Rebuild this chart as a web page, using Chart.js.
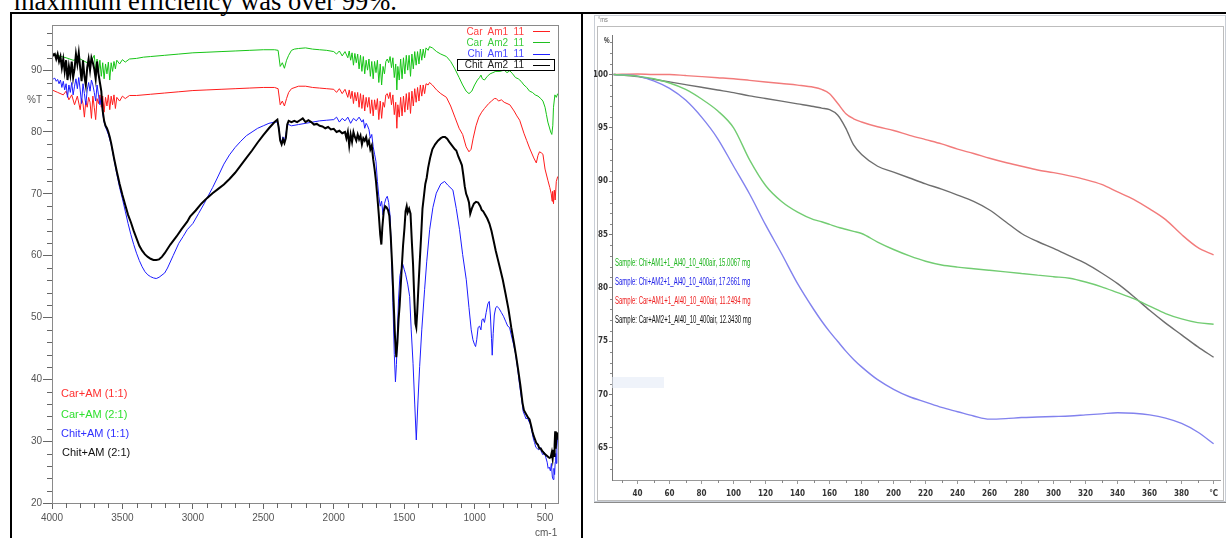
<!DOCTYPE html>
<html>
<head>
<meta charset="utf-8">
<script src="https://cdn.jsdelivr.net/npm/chart.js@4.4.1/dist/chart.umd.min.js"></script>
<style>
  body { margin: 0; background: #fff; }
  #page { position: relative; width: 1226px; height: 538px; overflow: hidden; background: #fff; font-family: "Liberation Sans", Arial, sans-serif; }
  .abs { position: absolute; white-space: pre; }
  .narrow { font-family: "Liberation Sans", Arial, sans-serif; transform-origin: 0 50%; }
  canvas { display: block; }
</style>
</head>
<body>
<div id="page">
  <div class="abs" style="left:14px;top:-12px;font:26.5px/26.5px 'Liberation Serif','Times New Roman',serif;color:#000">maximum efficiency was over 99%.</div>

  <!-- table borders -->
  <div class="abs" style="left:10px;top:12px;width:1216px;height:2px;background:#000"></div>
  <div class="abs" style="left:10px;top:12px;width:2px;height:526px;background:#000"></div>
  <div class="abs" style="left:581px;top:12px;width:2px;height:526px;background:#000"></div>

  <!-- left: FTIR -->
  <div class="abs" style="left:0;top:14px;width:580px;height:524px"><canvas id="ftir" width="580" height="524"></canvas></div>
  <div class="abs" style="left:27px;top:94px;font-size:10px;color:#555">%T</div>
  <div class="abs" style="left:535px;top:527px;font-size:10px;color:#555">cm-1</div>

  <div class="abs" style="left:440px;top:26px;width:84px;text-align:right;font-size:10px;color:#ff4040">Car  Am1  11</div>
  <div class="abs" style="left:533px;top:31px;width:17px;height:1px;background:#ff2020"></div>
  <div class="abs" style="left:440px;top:37px;width:84px;text-align:right;font-size:10px;color:#3ccc3c">Car  Am2  11</div>
  <div class="abs" style="left:533px;top:42px;width:17px;height:1px;background:#20c020"></div>
  <div class="abs" style="left:440px;top:48px;width:84px;text-align:right;font-size:10px;color:#4848ff">Chi  Am1  11</div>
  <div class="abs" style="left:533px;top:54px;width:17px;height:1px;background:#2020ff"></div>
  <div class="abs" style="left:457px;top:59px;width:96px;height:10px;border:1px solid #000"></div>
  <div class="abs" style="left:440px;top:59px;width:84px;text-align:right;font-size:10px;color:#222">Chit  Am2  11</div>
  <div class="abs" style="left:533px;top:65px;width:17px;height:1px;background:#000"></div>

  <div class="abs" style="left:61px;top:387px;font-size:11px;color:#ff3030">Car+AM (1:1)</div>
  <div class="abs" style="left:61px;top:408px;font-size:11px;color:#30e030">Car+AM (2:1)</div>
  <div class="abs" style="left:61px;top:427px;font-size:11px;color:#3030ff">Chit+AM (1:1)</div>
  <div class="abs" style="left:62px;top:446px;font-size:11px;color:#111">Chit+AM (2:1)</div>

  <!-- right: TGA -->
  <div class="abs" style="left:594px;top:15px;width:632px;height:487px;border:1px solid #c9ced6;box-sizing:border-box"></div>
  <div class="abs" style="left:597px;top:26px;width:627px;height:475px;border:1px solid #bdbdbd;box-sizing:border-box"></div>
  <div class="abs" style="left:594px;top:502px;width:632px;height:1px;background:#8a8a8a"></div>
  <div class="abs" style="left:598px;top:16px;font-size:7px;color:#777;transform:scaleX(0.8);transform-origin:0 50%">°ms</div>
  <div class="abs" style="left:594px;top:28px;width:630px;height:472px"><canvas id="tga" width="630" height="472"></canvas></div>
  <div class="abs" style="left:604px;top:35px;font-size:9px;font-weight:bold;color:#333;transform:scaleX(0.7);transform-origin:0 50%">%</div>
  <div class="abs" style="left:612px;top:377px;width:52px;height:11px;background:rgba(226,233,246,0.55)"></div>

  <div class="abs narrow" style="left:615px;top:257px;font-size:10px;color:#1fb51f;transform:scaleX(0.6)">Sample: Chi+AM1+1_Al40_10_400air, 15.0067 mg</div>
  <div class="abs narrow" style="left:615px;top:276px;font-size:10px;color:#2020e8;transform:scaleX(0.6)">Sample: Chi+AM2+1_Al40_10_400air, 17.2661 mg</div>
  <div class="abs narrow" style="left:615px;top:295px;font-size:10px;color:#ee2020;transform:scaleX(0.6)">Sample: Car+AM1+1_Al40_10_400air, 11.2494 mg</div>
  <div class="abs narrow" style="left:615px;top:314px;font-size:10px;color:#111;transform:scaleX(0.6)">Sample: Car+AM2+1_Al40_10_400air, 12.3430 mg</div>
</div>

<script>
// FTIR spectra, [wavenumber cm-1, %T]
const carAm1 = [[4000,86.8],[3960,86.4],[3920,86.0],[3900,86.6],[3880,85.2],[3860,86.0],[3840,84.4],[3820,85.8],[3800,83.6],[3790,85.4],[3780,84.6],[3770,82.4],[3760,85.0],[3750,84.0],[3740,85.6],[3730,84.8],[3720,82.2],[3710,85.8],[3700,84.0],[3690,82.0],[3680,85.4],[3670,84.6],[3660,86.0],[3650,84.0],[3640,85.8],[3630,83.2],[3620,85.6],[3610,84.2],[3600,86.0],[3590,83.6],[3580,85.8],[3570,84.4],[3560,86.0],[3550,83.8],[3540,85.6],[3520,85.0],[3500,85.8],[3480,85.4],[3450,85.9],[3400,85.9],[3300,86.1],[3200,86.3],[3100,86.5],[3000,86.7],[2900,86.8],[2800,86.9],[2700,87.0],[2600,87.1],[2500,87.2],[2420,87.2],[2395,87.0],[2380,84.4],[2365,85.0],[2350,84.2],[2335,85.4],[2320,86.4],[2300,87.0],[2250,87.4],[2200,87.4],[2150,87.2],[2100,87.1],[2050,87.0],[2000,86.9],[1980,86.4],[1960,87.0],[1940,86.2],[1920,86.9],[1900,85.6],[1890,86.8],[1880,85.4],[1870,86.6],[1860,84.6],[1850,86.4],[1840,85.0],[1830,86.4],[1820,84.0],[1810,86.2],[1800,83.8],[1790,86.0],[1780,83.4],[1770,85.6],[1760,84.0],[1750,85.6],[1740,83.0],[1730,85.2],[1720,82.6],[1710,85.2],[1700,83.6],[1690,85.4],[1680,82.0],[1670,85.0],[1660,82.2],[1650,84.8],[1640,84.0],[1630,86.0],[1620,86.2],[1610,85.4],[1600,86.4],[1590,84.4],[1580,86.0],[1570,82.8],[1560,84.8],[1552,80.6],[1545,84.4],[1535,82.4],[1525,85.6],[1515,82.6],[1505,85.8],[1495,83.2],[1485,86.2],[1475,83.6],[1465,86.4],[1455,83.0],[1445,86.6],[1435,84.2],[1425,87.0],[1415,84.8],[1405,87.2],[1395,85.0],[1385,87.6],[1375,85.8],[1365,87.6],[1355,86.2],[1345,87.8],[1330,87.6],[1320,88.0],[1300,87.6],[1270,86.8],[1240,86.2],[1200,85.6],[1170,84.2],[1140,82.4],[1110,80.6],[1085,79.6],[1060,77.6],[1040,76.8],[1025,77.2],[1010,79.0],[990,81.0],[970,82.4],[950,83.2],[930,83.8],[900,84.6],[880,85.0],[860,85.4],[846,85.4],[830,85.0],[810,85.2],[790,84.8],[770,84.6],[750,84.4],[720,83.4],[700,82.6],[680,81.9],[650,79.8],[630,78.6],[610,77.4],[580,75.8],[562,75.0],[550,76.2],[539,76.8],[525,76.6],[515,76.4],[500,74.0],[480,72.2],[466,71.0],[456,70.0],[450,68.8],[446,70.4],[440,68.4],[434,70.6],[428,69.0],[420,72.0],[410,72.8]];

const carAm2 = [[4000,92.6],[3950,92.3],[3900,92.0],[3850,91.6],[3800,91.8],[3750,91.2],[3720,91.5],[3700,92.4],[3690,90.0],[3680,91.8],[3670,89.5],[3660,91.6],[3650,89.0],[3640,91.2],[3630,88.6],[3620,91.0],[3610,89.4],[3600,91.3],[3590,88.4],[3580,91.2],[3570,89.8],[3560,91.4],[3550,90.2],[3540,91.6],[3520,91.0],[3500,91.7],[3480,91.3],[3450,91.8],[3400,91.9],[3350,92.1],[3300,92.2],[3200,92.4],[3100,92.6],[3000,92.8],[2900,92.9],[2800,93.0],[2700,93.1],[2600,93.2],[2500,93.3],[2420,93.3],[2395,93.2],[2380,90.6],[2365,91.2],[2350,90.3],[2335,91.6],[2320,92.4],[2300,93.2],[2280,93.4],[2250,93.5],[2200,93.6],[2150,93.4],[2100,93.3],[2050,93.2],[2000,93.0],[1980,92.6],[1960,93.1],[1940,92.3],[1920,93.0],[1900,92.0],[1890,93.1],[1880,91.6],[1870,92.8],[1860,90.8],[1850,92.7],[1840,91.2],[1830,92.6],[1820,90.2],[1810,92.4],[1800,89.8],[1790,92.2],[1780,89.4],[1770,91.6],[1760,90.0],[1750,91.8],[1740,89.0],[1730,91.4],[1720,88.6],[1710,91.4],[1700,89.6],[1690,91.6],[1680,88.0],[1670,91.0],[1660,87.6],[1650,90.6],[1640,89.4],[1630,91.4],[1620,91.8],[1610,91.2],[1600,92.2],[1590,90.4],[1580,92.0],[1570,88.8],[1560,91.0],[1552,86.8],[1545,90.6],[1535,88.4],[1525,91.8],[1515,88.6],[1505,92.0],[1495,89.4],[1485,92.4],[1475,90.0],[1465,92.4],[1455,89.0],[1445,92.6],[1435,90.2],[1425,93.0],[1415,90.8],[1405,93.0],[1395,91.0],[1385,93.4],[1375,91.6],[1365,93.4],[1355,92.0],[1345,93.6],[1330,93.2],[1320,93.8],[1300,93.6],[1270,93.0],[1240,92.6],[1200,92.2],[1170,91.4],[1140,90.2],[1110,88.8],[1085,87.6],[1060,86.6],[1040,86.2],[1020,86.6],[1000,87.6],[980,88.4],[965,88.8],[955,89.2],[945,88.6],[930,88.4],[910,89.0],[890,89.4],[870,89.6],[850,89.8],[820,89.8],[790,90.0],[770,89.6],[750,89.9],[730,89.4],[710,88.8],[690,88.6],[670,88.2],[650,87.6],[630,87.2],[610,86.6],[590,86.4],[570,86.0],[550,85.8],[530,85.4],[515,85.0],[500,84.0],[490,82.8],[480,81.6],[470,80.8],[460,80.0],[452,79.6],[445,81.0],[440,84.0],[430,86.0],[420,85.6],[410,86.2]];

const chiAm1 = [[4000,88.8],[3990,88.6],[3980,88.7],[3970,88.2],[3960,88.5],[3950,87.8],[3940,88.4],[3930,87.2],[3920,88.2],[3910,86.8],[3900,87.8],[3890,85.6],[3880,87.6],[3870,86.4],[3860,88.0],[3850,86.0],[3840,87.4],[3830,88.6],[3820,87.0],[3810,88.8],[3800,86.8],[3790,84.6],[3780,87.8],[3770,86.2],[3760,84.4],[3750,86.8],[3740,88.0],[3730,86.6],[3720,88.4],[3710,87.6],[3700,86.4],[3690,85.0],[3680,87.6],[3670,86.0],[3660,84.4],[3650,85.6],[3640,83.0],[3630,81.6],[3620,80.8],[3610,80.2],[3600,79.6],[3580,78.0],[3560,75.6],[3540,73.2],[3520,71.0],[3500,69.2],[3480,67.2],[3460,65.2],[3440,63.4],[3420,61.8],[3400,60.4],[3380,59.2],[3360,58.2],[3340,57.4],[3320,56.9],[3300,56.6],[3280,56.4],[3260,56.3],[3240,56.5],[3200,57.2],[3180,58.0],[3140,60.0],[3100,62.0],[3069,63.1],[3040,64.2],[3000,65.2],[2960,66.8],[2920,68.4],[2900,69.3],[2860,71.0],[2830,72.4],[2780,74.8],[2740,76.3],[2700,77.5],[2660,78.5],[2620,79.4],[2580,80.0],[2540,80.6],[2500,81.0],[2460,81.4],[2420,81.6],[2400,81.6],[2390,80.8],[2380,78.8],[2370,78.4],[2360,79.2],[2350,78.6],[2340,79.6],[2330,81.0],[2320,81.2],[2300,81.0],[2250,81.2],[2200,81.4],[2150,81.6],[2100,81.8],[2050,81.9],[2000,82.0],[1980,82.4],[1960,81.6],[1940,82.2],[1920,81.8],[1900,82.4],[1880,81.4],[1860,82.2],[1840,81.8],[1820,82.4],[1800,81.6],[1790,82.0],[1780,80.6],[1770,81.4],[1760,81.0],[1750,80.4],[1740,79.0],[1730,79.6],[1720,77.6],[1710,76.4],[1700,75.2],[1690,72.0],[1680,69.6],[1670,68.0],[1660,68.8],[1650,66.6],[1640,68.4],[1630,69.2],[1620,69.6],[1610,68.6],[1600,66.4],[1590,60.2],[1580,52.4],[1570,44.0],[1562,39.6],[1555,42.4],[1548,47.6],[1540,53.0],[1530,56.8],[1520,57.8],[1510,58.6],[1500,57.8],[1490,57.0],[1475,55.4],[1461,53.4],[1450,48.0],[1437,42.6],[1425,36.0],[1414,30.2],[1402,36.5],[1390,42.1],[1375,48.0],[1355,54.5],[1340,59.0],[1319,64.2],[1296,67.8],[1272,70.1],[1240,71.6],[1213,72.0],[1190,71.4],[1154,70.6],[1130,67.6],[1107,64.2],[1085,60.2],[1059,56.1],[1040,51.6],[1024,48.0],[1012,46.4],[1000,45.6],[993,45.3],[985,46.4],[975,48.4],[965,48.6],[955,48.0],[948,49.6],[940,49.8],[930,49.2],[918,50.8],[906,52.2],[896,52.6],[888,50.4],[880,46.6],[875,43.9],[868,47.4],[860,50.4],[850,51.6],[840,51.8],[825,51.4],[810,50.8],[795,50.2],[780,49.4],[765,48.6],[752,48.4],[740,47.2],[725,45.8],[710,44.2],[695,41.8],[680,39.0],[665,36.6],[655,34.8],[645,34.2],[635,33.6],[625,33.8],[615,33.2],[605,32.8],[595,31.8],[585,30.6],[575,29.8],[565,29.0],[555,28.8],[545,28.6],[535,29.0],[525,28.2],[515,27.8],[505,28.2],[495,27.4],[485,26.6],[478,25.6],[470,25.8],[462,25.2],[455,26.4],[448,24.2],[442,23.8],[437,25.6],[432,24.6],[428,26.6],[424,28.0],[420,26.4],[416,29.0],[410,31.0]];

const chitAm2 = [[4000,92.8],[3990,92.4],[3980,92.6],[3970,91.8],[3960,92.6],[3950,91.4],[3940,92.2],[3930,90.4],[3920,91.8],[3910,89.8],[3900,91.6],[3890,88.4],[3880,90.6],[3870,89.2],[3860,91.4],[3850,88.8],[3840,90.2],[3830,92.6],[3820,91.0],[3810,92.8],[3800,90.4],[3790,88.2],[3780,91.6],[3770,89.0],[3760,87.6],[3750,90.4],[3740,91.8],[3730,90.0],[3720,92.0],[3710,91.2],[3700,90.2],[3690,88.6],[3680,91.4],[3670,89.4],[3660,88.0],[3650,86.6],[3640,83.4],[3630,81.8],[3620,81.0],[3610,80.6],[3600,80.0],[3590,79.2],[3580,78.2],[3570,77.0],[3560,75.8],[3540,73.6],[3520,71.6],[3500,69.8],[3480,68.2],[3460,66.6],[3440,65.4],[3420,64.0],[3400,62.8],[3380,61.6],[3360,60.8],[3340,60.2],[3320,59.8],[3300,59.5],[3280,59.3],[3260,59.3],[3240,59.4],[3220,59.8],[3200,60.4],[3160,61.8],[3116,63.1],[3080,64.3],[3040,65.5],[3020,66.3],[2980,67.3],[2940,68.4],[2900,69.3],[2860,70.1],[2820,70.8],[2780,71.5],[2740,72.4],[2700,73.4],[2660,74.6],[2620,75.8],[2580,77.0],[2540,78.3],[2500,79.5],[2460,80.6],[2420,81.6],[2400,82.0],[2390,80.6],[2380,78.6],[2370,78.0],[2360,78.8],[2350,78.2],[2340,79.0],[2330,81.2],[2320,81.8],[2300,81.6],[2280,81.8],[2260,81.6],[2240,81.9],[2220,82.2],[2200,81.6],[2180,81.9],[2160,81.6],[2140,81.2],[2120,81.3],[2100,81.0],[2080,80.9],[2060,80.6],[2040,80.8],[2020,80.4],[2000,80.5],[1980,80.0],[1960,80.2],[1940,79.8],[1920,80.0],[1910,79.0],[1900,80.0],[1890,77.8],[1880,79.6],[1870,78.4],[1860,80.0],[1850,79.2],[1840,78.6],[1830,79.6],[1820,78.8],[1810,79.4],[1800,78.0],[1790,79.0],[1780,78.6],[1770,79.2],[1760,78.0],[1750,78.6],[1740,77.2],[1730,77.8],[1720,75.6],[1710,74.0],[1700,72.0],[1690,69.4],[1680,66.6],[1670,63.4],[1662,61.8],[1655,64.6],[1645,67.2],[1635,68.0],[1625,67.8],[1615,67.4],[1605,66.4],[1595,63.0],[1585,58.2],[1575,52.6],[1565,46.8],[1556,43.6],[1548,46.0],[1540,49.6],[1532,52.0],[1520,57.0],[1508,61.6],[1498,64.4],[1490,67.2],[1482,68.0],[1475,67.0],[1465,67.6],[1455,66.8],[1445,62.0],[1437,58.6],[1428,53.0],[1420,49.0],[1414,48.4],[1408,50.6],[1400,54.4],[1390,58.8],[1380,63.0],[1370,67.6],[1360,69.6],[1350,71.6],[1340,72.6],[1330,74.2],[1316,75.8],[1300,77.2],[1280,78.0],[1260,78.6],[1240,79.0],[1225,79.2],[1210,79.2],[1195,78.9],[1180,78.4],[1160,77.8],[1140,77.2],[1130,77.0],[1115,76.0],[1100,75.2],[1090,74.6],[1080,73.0],[1070,71.2],[1060,70.0],[1050,69.4],[1040,68.6],[1031,66.8],[1020,67.6],[1005,68.4],[990,68.7],[975,68.6],[960,68.0],[950,67.4],[940,67.2],[925,66.6],[910,66.0],[895,65.2],[880,64.0],[865,62.4],[850,60.8],[835,59.4],[820,58.0],[800,56.1],[780,53.8],[760,51.4],[740,48.4],[720,45.8],[705,43.7],[690,41.4],[675,39.0],[660,36.2],[650,35.0],[640,34.6],[630,34.2],[620,33.8],[610,33.5],[600,32.6],[590,31.6],[580,30.8],[570,30.2],[562,29.7],[550,29.4],[540,28.8],[530,28.8],[520,28.4],[515,28.3],[505,28.0],[495,27.8],[485,27.6],[475,27.4],[468,27.3],[460,27.4],[452,28.2],[446,27.2],[440,28.6],[436,27.6],[432,29.4],[428,31.6],[424,28.8],[420,30.4],[416,31.4],[410,30.6]];

const ftirXTicks = [4000, 3500, 3000, 2500, 2000, 1500, 1000, 500];
const ftirYTicks = [20, 30, 40, 50, 60, 70, 80, 90];

// TGA curves, mass % against temperature
const tgaTemp = [25,40,50,60,70,80,90,100,110,120,130,140,150,155,160,165,170,175,180,190,200,210,220,230,240,250,260,270,280,290,300,310,320,330,340,350,360,370,380,390,400];
const tgaChiAm1 = [100,99.85,99.6,99.2,98.6,97.7,96.6,95.0,92.0,89.6,88.1,87.1,86.4,86.2,85.95,85.7,85.5,85.3,85.1,84.3,83.6,83.0,82.5,82.15,81.95,81.8,81.65,81.5,81.35,81.2,81.05,80.9,80.55,80.1,79.55,79.0,78.3,77.6,77.1,76.75,76.6];
const tgaChiAm2 = [100,99.85,99.4,98.7,97.6,96.0,94.0,91.4,88.8,85.9,83.2,80.4,78.0,76.9,75.9,75.0,74.1,73.3,72.6,71.4,70.5,69.8,69.3,68.8,68.4,68.0,67.7,67.75,67.85,67.9,67.95,68.0,68.1,68.2,68.3,68.25,68.1,67.8,67.3,66.5,65.4];
const tgaCarAm1 = [100.0,100.05,100.0,100.0,99.9,99.8,99.7,99.6,99.45,99.3,99.15,99.0,98.8,98.6,98.2,97.3,96.35,95.85,95.55,95.1,94.75,94.3,93.9,93.5,93.0,92.6,92.15,91.75,91.4,91.05,90.8,90.5,90.15,89.7,89.0,88.3,87.4,86.4,85.0,83.8,83.1];
const tgaCarAm2 = [100,99.8,99.55,99.3,99.05,98.8,98.55,98.3,98.0,97.75,97.5,97.25,97.0,96.85,96.7,96.2,95.0,93.4,92.5,91.4,90.85,90.3,89.75,89.25,88.7,88.1,87.3,86.2,85.1,84.35,83.7,83.0,82.3,81.4,80.4,79.2,77.9,76.7,75.6,74.5,73.5];

const tgaXTicks = [40,60,80,100,120,140,160,180,200,220,240,260,280,300,320,340,360,380,400];
const tgaYTicks = [65, 70, 75, 80, 85, 90, 95, 100];

const toPts = arr => arr.map(p => ({ x: p[0], y: p[1] }));
const tgaPts = vals => tgaTemp.map((t, i) => ({ x: t, y: vals[i] }));
const fixedTicks = list => s => { s.ticks = list.map(v => ({ value: v })); };

// minor ticks + plot frame
function minorTicks(opts) {
  return {
    id: 'minor_' + opts.name,
    afterDraw(chart) {
      const ctx = chart.ctx, xs = chart.scales.x, ys = chart.scales.y, a = chart.chartArea;
      ctx.save();
      ctx.lineWidth = 1;
      if (opts.frame) {
        ctx.strokeStyle = opts.frame;
        ctx.strokeRect(Math.round(a.left) + 0.5, Math.round(a.top) + 0.5, Math.round(a.right - a.left), Math.round(a.bottom - a.top));
      }
      ctx.strokeStyle = opts.color;
      ctx.beginPath();
      for (let v = opts.xFrom; v <= opts.xTo; v += opts.xStep) {
        if (v % opts.xMajor === 0) continue;
        const px = Math.round(xs.getPixelForValue(v)) + 0.5;
        ctx.moveTo(px, a.bottom);
        ctx.lineTo(px, a.bottom + opts.xLen);
      }
      for (let v = opts.yFrom; v <= opts.yTo; v += opts.yStep) {
        if (v % opts.yMajor === 0) continue;
        const py = Math.round(ys.getPixelForValue(v)) + 0.5;
        ctx.moveTo(a.left - opts.yLen, py);
        ctx.lineTo(a.left, py);
      }
      ctx.stroke();
      ctx.restore();
    }
  };
}

new Chart(document.getElementById('ftir'), {
  type: 'line',
  data: {
    datasets: [
      { label: 'Chit Am2 11', data: toPts(chitAm2), borderColor: '#000000', borderWidth: 2, order: 0 },
      { label: 'Chi Am1 11', data: toPts(chiAm1), borderColor: '#1c1cff', borderWidth: 1, order: 1 },
      { label: 'Car Am2 11', data: toPts(carAm2), borderColor: '#16c416', borderWidth: 1, order: 2 },
      { label: 'Car Am1 11', data: toPts(carAm1), borderColor: '#ff1c1c', borderWidth: 1, order: 3 }
    ]
  },
  options: {
    responsive: false,
    animation: false,
    devicePixelRatio: 1,
    layout: { padding: { left: 0, right: 22, top: 11, bottom: 0 } },
    elements: { point: { radius: 0 }, line: { tension: 0 } },
    plugins: { legend: { display: false }, tooltip: { enabled: false } },
    scales: {
      x: {
        type: 'linear', reverse: true, min: 408, max: 4000,
        afterBuildTicks: fixedTicks(ftirXTicks),
        ticks: { autoSkip: false, maxRotation: 0, color: '#555', font: { size: 10 }, padding: 3, callback: v => String(v) },
        grid: { drawOnChartArea: false, tickLength: 6, color: '#666' },
        border: { color: '#666' },
        afterFit: s => { s.height = 35; }
      },
      y: {
        min: 20, max: 97.3,
        afterBuildTicks: fixedTicks(ftirYTicks),
        ticks: { color: '#555', font: { size: 10 }, padding: 1, callback: v => String(v) },
        grid: { drawOnChartArea: false, tickLength: 9, color: '#666' },
        border: { color: '#666' },
        afterFit: s => { s.width = 52; }
      }
    }
  },
  plugins: [minorTicks({ name: 'ftir', color: '#666', frame: '#8a8a8a', xFrom: 500, xTo: 4000, xStep: 100, xMajor: 500, xLen: 5, yFrom: 22, yTo: 96, yStep: 2, yMajor: 10, yLen: 5 })]
});

const tgaFont = { family: "'Liberation Sans Narrow','DejaVu Sans Condensed',Arial", size: 8, weight: 'bold' };

new Chart(document.getElementById('tga'), {
  type: 'line',
  data: {
    datasets: [
      { label: 'Chi+AM1', data: tgaPts(tgaChiAm1), borderColor: '#72cc72', borderWidth: 1.4 },
      { label: 'Chi+AM2', data: tgaPts(tgaChiAm2), borderColor: '#8282ee', borderWidth: 1.4 },
      { label: 'Car+AM1', data: tgaPts(tgaCarAm1), borderColor: '#f27b7b', borderWidth: 1.4 },
      { label: 'Car+AM2', data: tgaPts(tgaCarAm2), borderColor: '#6e6e6e', borderWidth: 1.4 }
    ]
  },
  options: {
    responsive: false,
    animation: false,
    devicePixelRatio: 1,
    layout: { padding: { left: 0, right: 4, top: 7, bottom: 0 } },
    elements: { point: { radius: 0 }, line: { cubicInterpolationMode: 'monotone' } },
    plugins: { legend: { display: false }, tooltip: { enabled: false } },
    scales: {
      x: {
        type: 'linear', min: 24, max: 404,
        afterBuildTicks: fixedTicks(tgaXTicks),
        ticks: { autoSkip: false, maxRotation: 0, padding: 5, color: '#333', font: tgaFont, callback: v => (v === 400 ? '°C' : String(v)) },
        grid: { drawOnChartArea: false, tickLength: 4, color: '#999' },
        border: { color: '#999' },
        afterFit: s => { s.height = 20; }
      },
      y: {
        min: 62, max: 103.7,
        afterBuildTicks: fixedTicks(tgaYTicks),
        ticks: { padding: 1, color: '#333', font: tgaFont, callback: v => String(v) },
        grid: { drawOnChartArea: false, tickLength: 3, color: '#777' },
        border: { color: '#777' },
        afterFit: s => { s.width = 18; }
      }
    }
  },
  plugins: [minorTicks({ name: 'tga', color: '#888', xFrom: 30, xTo: 400, xStep: 10, xMajor: 20, xLen: 3, yFrom: 63, yTo: 103, yStep: 1, yMajor: 5, yLen: 2 })]
});
</script>
</body>
</html>
